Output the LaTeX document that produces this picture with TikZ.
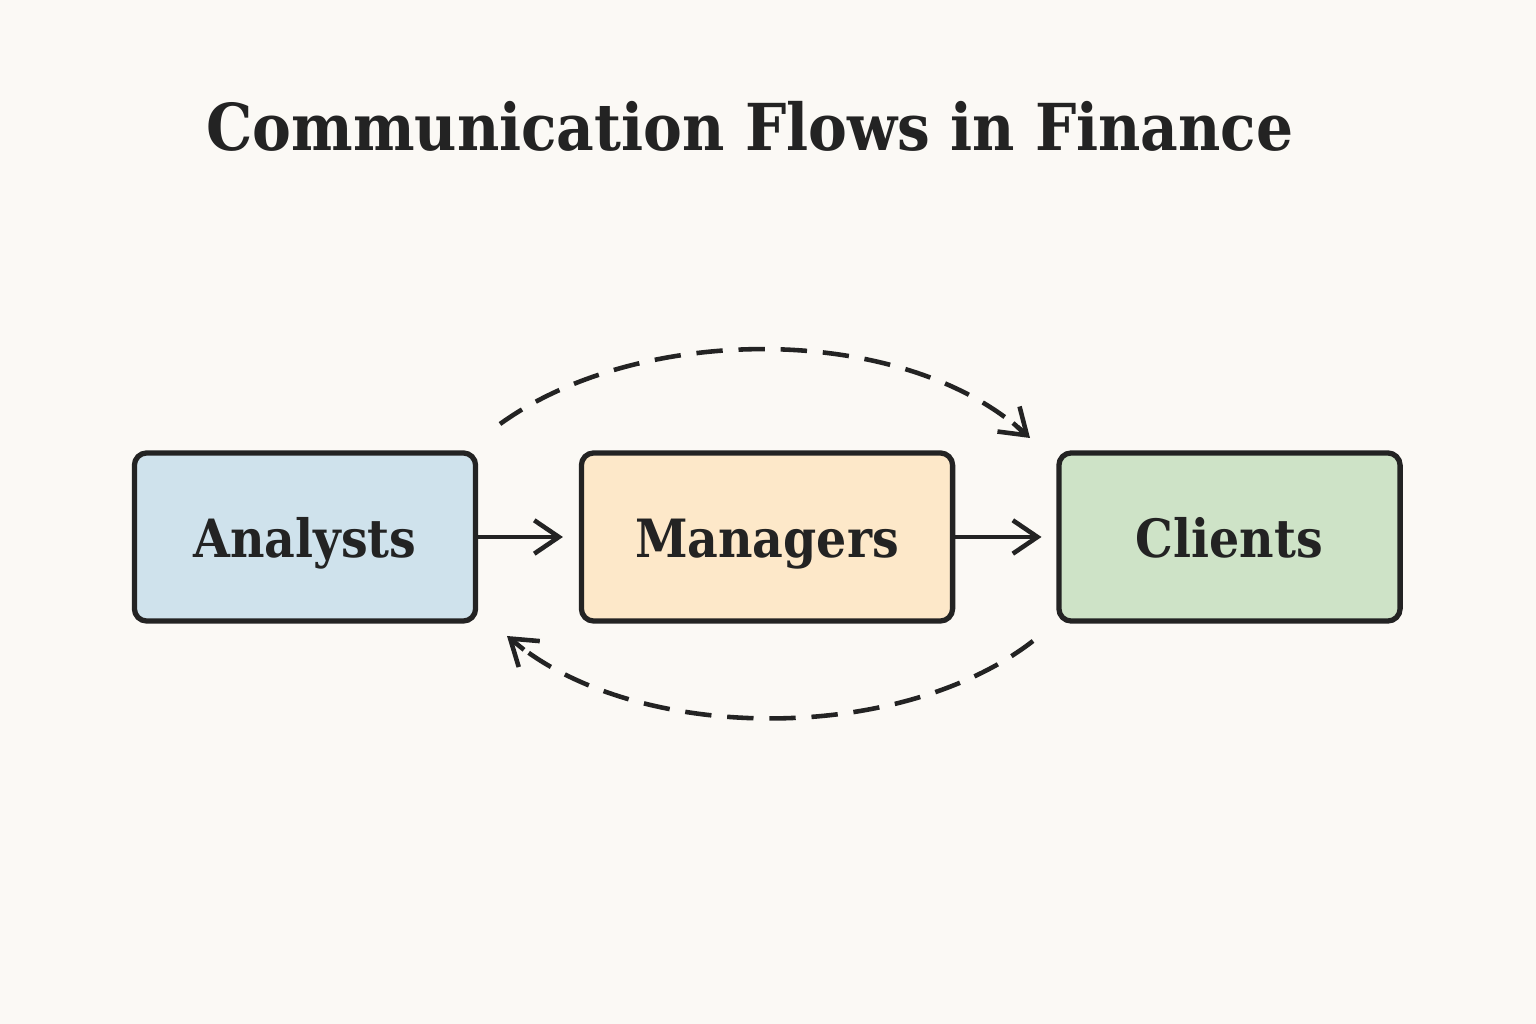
\documentclass[tikz,border=0pt]{standalone}
\usepackage{fontspec}
\setmainfont{DejaVu Serif Condensed}[BoldFont={DejaVu Serif Condensed Bold}]
\usetikzlibrary{arrows.meta}
\definecolor{paper}{HTML}{FBF9F5}
\definecolor{ink}{HTML}{232323}
\definecolor{analystblue}{HTML}{CFE2EC}
\definecolor{managerorange}{HTML}{FDE8C9}
\definecolor{clientgreen}{HTML}{CEE3C7}
\tikzset{
  flowbox/.style={draw=ink, line width=1.5pt, rounded corners=3.5pt,
    minimum width=3.41cm, minimum height=1.68cm, text=ink,
    text height=11.5pt, text depth=0pt,
    font=\fontsize{15}{18}\selectfont\bfseries},
  flow/.style={draw=ink, line width=1.3pt, -{Straight Barb[length=7pt,width=9.5pt]}},
  feedback/.style={draw=ink, line width=1.3pt, dash pattern=on 7.5pt off 4.5pt, shorten >=3pt},
}
\begin{document}
\begin{tikzpicture}[x=0.01cm, y=0.01cm]
  % Hintergrund
  \fill[paper] (0,0) rectangle (1536,1024);
  \useasboundingbox (0,0) rectangle (1536,1024);

  \node[anchor=base, text=ink, font=\fontsize{18.4}{22}\selectfont\bfseries] (title) at (750,873) {Communication Flows in Finance};

  \node[flowbox, fill=analystblue] (ana) at (305,487) {Analysts};
  \node[flowbox, fill=managerorange, minimum width=3.71cm] (man) at (767,487) {Managers};
  \node[flowbox, fill=clientgreen] (cli) at (1229.5,487) {Clients};

  \draw[flow, shorten >=4.5pt] (ana) -- (man);
  \draw[flow, shorten >=4.2pt] (man) -- (cli);

  % Rueckmeldungen (Spitze extra, damit sie durchgezogen bleibt)
  \coordinate (topS) at (500,600);
  \coordinate (topE) at (1030,586);
  \coordinate (topT) at (1013,601);
  \coordinate (botS) at (1033,383);
  \coordinate (botE) at (507,388);
  \coordinate (botT) at (524,374.2);
  \draw[feedback] (topS) .. controls (640,701) and (900,701) .. (topE);
  \draw[feedback] (botS) .. controls (900,280) and (640,280) .. (botE);
  \draw[flow] (topT) -- (topE);
  \draw[flow] (botT) -- (botE);
\end{tikzpicture}
\end{document}
